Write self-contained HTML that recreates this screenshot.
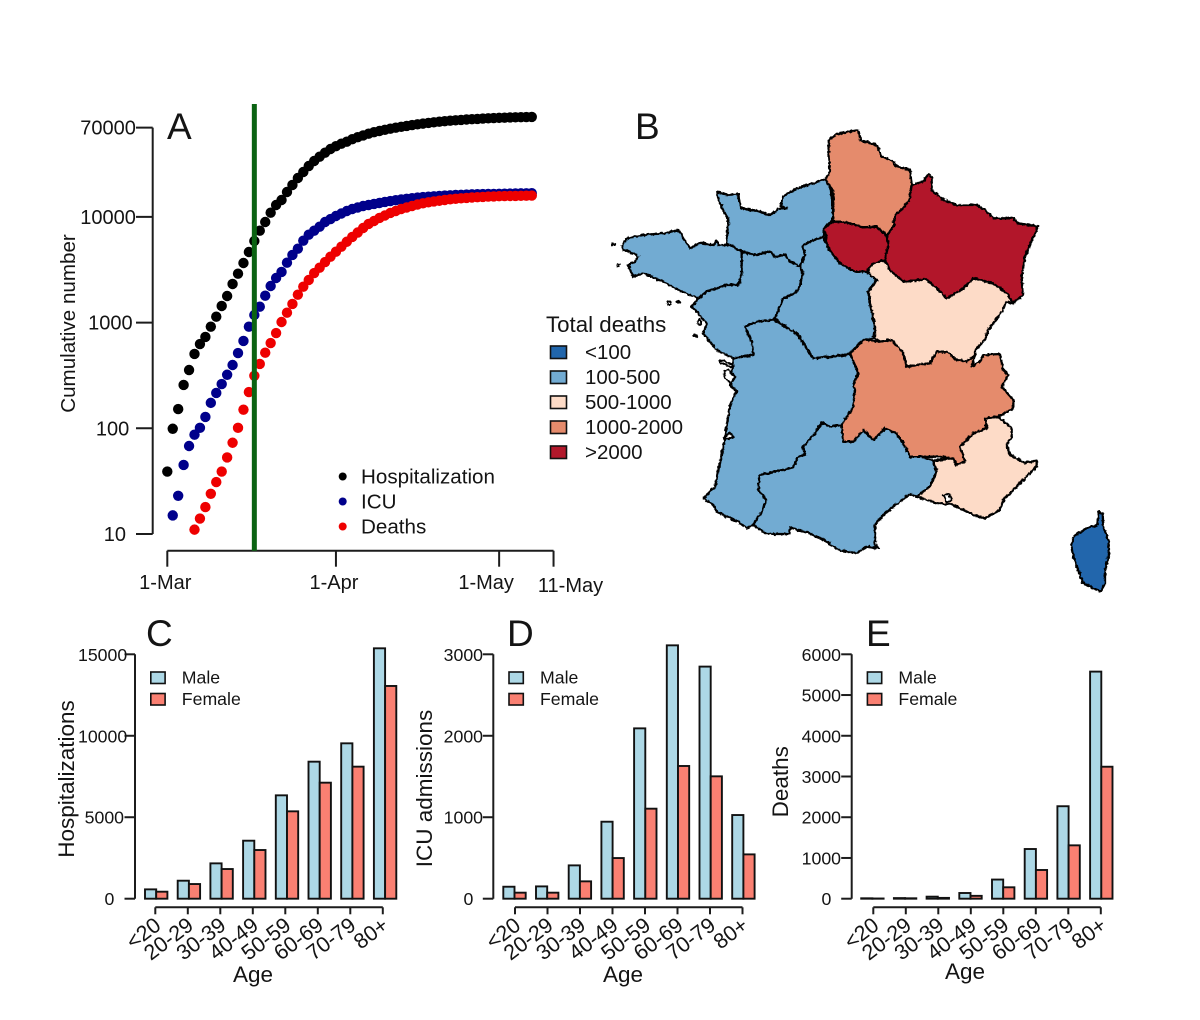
<!DOCTYPE html>
<html lang="en">
<head>
<meta charset="utf-8">
<title>COVID-19 in France: cumulative counts, regional deaths and age breakdown</title>
<style>
html,body{margin:0;padding:0;background:#fff;}
svg{display:block;}
text{font-family:"Liberation Sans",Arial,sans-serif;fill:#141414;}
.reg{stroke:#000;stroke-width:7;stroke-linejoin:round;}
.blue{fill:#72abd2;}
.dark{fill:#2166ac;}
.pale{fill:#fddbc7;}
.sal{fill:#e58b6c;}
.red{fill:#b2182b;}
.isl{fill:#fff;stroke:#000;stroke-width:6;stroke-linejoin:round;}
</style>
</head>
<body>
<svg id="fig" xmlns="http://www.w3.org/2000/svg" width="1200" height="1020" viewBox="0 0 1200 1020">
<defs>
<filter id="rough" x="-5%" y="-5%" width="110%" height="110%">
<feTurbulence type="fractalNoise" baseFrequency="0.3" numOctaves="2" seed="4" result="n"/>
<feDisplacementMap in="SourceGraphic" in2="n" scale="3.4" xChannelSelector="R" yChannelSelector="G"/>
</filter>
</defs>
<rect x="0" y="0" width="1200" height="1020" fill="#fff"/>

<g id="panelA"></g>

<g>
<text x="635" y="139" font-size="37">B</text>
<g filter="url(#rough)">
<g transform="translate(610 120) scale(0.33333)">
<polygon class="reg blue" points="322,215 350,225 385,222 388,245 395,265 440,272 480,285 510,265 530,265 512,258 518,230 560,205 610,190 640,180 645,178 660,200 668,240 668,300 642,325 640,350 600,365 578,378 585,405 570,440 540,425 525,405 495,410 480,395 435,405 395,395 370,385 350,372 352,340 355,300 340,270 325,240"/>
<polygon class="reg blue" points="35,380 50,355 100,345 160,340 205,330 220,355 240,385 270,368 310,375 320,362 325,375 360,375 395,395 395,465 385,495 350,495 290,515 265,535 240,525 205,510 160,485 100,460 70,470 55,435 75,425 85,410 60,395 40,390"/>
<polygon class="reg blue" points="395,395 435,405 480,395 495,410 525,405 540,425 570,440 578,455 570,500 555,520 520,535 500,590 490,600 440,605 405,620 425,665 430,705 370,715 320,690 280,640 290,610 265,580 245,560 265,535 290,515 350,495 385,495 395,465"/>
<polygon class="reg blue" points="578,378 600,365 640,350 655,385 690,430 735,455 770,455 790,460 800,480 775,515 780,550 795,620 790,655 760,660 720,700 710,705 610,715 580,670 560,640 525,620 495,595 520,535 555,520 570,500 578,455 570,440 585,405"/>
<polygon class="reg blue" points="370,715 430,705 425,665 405,620 440,605 490,600 525,620 560,640 580,670 610,715 710,705 720,700 745,760 730,795 735,810 730,860 695,915 660,920 635,908 615,940 580,980 585,1005 565,1010 550,1042 475,1060 448,1065 445,1110 470,1140 455,1175 430,1215 410,1225 385,1205 320,1175 310,1155 280,1135 315,1100 340,980 360,855 380,815 360,795"/>
<polygon class="reg blue" points="695,915 700,965 730,965 760,930 790,960 825,925 860,940 880,970 900,1010 930,1010 970,1022 980,1055 960,1100 920,1130 900,1122 850,1160 815,1190 795,1215 795,1275 805,1285 770,1280 740,1300 685,1290 650,1265 600,1240 540,1222 540,1242 470,1242 430,1215 455,1175 470,1140 445,1110 448,1065 475,1060 550,1042 565,1010 585,1005 580,980 615,940 635,908 660,920"/>
<polygon class="reg sal" points="657,60 680,42 745,30 752,62 800,75 815,108 850,125 860,140 900,150 905,195 898,240 880,265 855,285 850,320 830,348 800,320 760,322 700,305 668,305 670,240 668,210 645,178 660,155 655,100"/>
<polygon class="reg pale" points="790,430 825,420 840,450 880,485 950,478 980,505 1010,535 1060,505 1090,475 1150,490 1190,520 1210,550 1190,545 1175,575 1135,630 1125,660 1095,690 1095,705 1070,725 1040,720 1010,695 980,695 960,730 920,735 890,740 880,700 845,660 810,665 795,655 795,620 780,550 775,515 800,480 770,455"/>
<polygon class="reg pale" points="1125,895 1165,890 1205,925 1205,950 1190,975 1200,1005 1245,1028 1280,1022 1280,1040 1240,1080 1180,1140 1170,1170 1125,1195 1090,1185 1030,1155 985,1150 950,1140 920,1130 960,1100 980,1055 970,1022 1030,1015 1040,1035 1065,1025 1050,980 1090,940 1130,925"/>
<polygon class="reg sal" points="720,700 760,660 810,665 845,660 880,700 890,740 920,735 960,730 980,695 1010,695 1040,720 1070,725 1095,705 1085,740 1110,725 1120,705 1170,702 1180,750 1195,765 1175,800 1210,840 1210,865 1165,890 1125,895 1130,925 1090,940 1050,980 1065,1025 1040,1035 1030,1015 985,1010 930,1010 900,1010 880,970 860,940 825,925 790,960 760,930 730,965 700,965 695,915 730,860 735,810 730,795 745,760"/>
<polygon class="reg red" points="642,325 668,305 700,305 760,322 800,320 830,348 835,375 825,420 790,430 770,455 735,455 690,430 655,385"/>
<polygon class="reg red" points="830,348 850,320 855,285 880,265 898,240 905,195 940,185 955,162 965,170 965,210 1000,240 1040,255 1100,255 1125,270 1150,295 1210,295 1225,310 1285,320 1265,360 1245,410 1235,470 1238,525 1210,550 1190,520 1150,490 1090,475 1060,505 1010,535 980,505 950,478 880,485 840,450 825,420 835,375"/>
<polygon class="reg dark" points="1465,1175 1478,1180 1480,1220 1495,1260 1498,1300 1485,1350 1485,1390 1472,1415 1420,1390 1400,1340 1390,1310 1383,1275 1395,1245 1430,1225 1462,1215"/>
<polygon class="isl" points="330,720 370,735 365,742 330,728"/>
<polygon class="isl" points="342,755 355,750 375,770 362,790 345,775"/>
<polygon class="isl" points="345,955 358,937 372,952 360,956"/>
<polygon class="isl" points="1000,1125 1015,1122 1025,1140 1008,1148"/>
<ellipse class="isl" cx="10" cy="373" rx="4" ry="2"/>
<ellipse class="isl" cx="25" cy="435" rx="2" ry="2"/>
<ellipse class="isl" cx="178" cy="550" rx="6" ry="5"/>
<ellipse class="isl" cx="205" cy="546" rx="4" ry="2"/>
<ellipse class="isl" cx="268" cy="606" rx="5" ry="8"/>
<ellipse class="isl" cx="255" cy="648" rx="5" ry="3"/>
</g>
</g>
<g>
<text x="546" y="332" font-size="22.3">Total deaths</text>
<rect x="550.5" y="346" width="16" height="12.5" class="dark" stroke="#111" stroke-width="1.6"/>
<text x="585" y="359" font-size="20.5">&lt;100</text>
<rect x="550.5" y="371" width="16" height="12.5" class="blue" stroke="#111" stroke-width="1.6"/>
<text x="585" y="384" font-size="20.5">100-500</text>
<rect x="550.5" y="396" width="16" height="12.5" class="pale" stroke="#111" stroke-width="1.6"/>
<text x="585" y="409" font-size="20.5">500-1000</text>
<rect x="550.5" y="421" width="16" height="12.5" class="sal" stroke="#111" stroke-width="1.6"/>
<text x="585" y="434" font-size="20.5">1000-2000</text>
<rect x="550.5" y="446" width="16" height="12.5" class="red" stroke="#111" stroke-width="1.6"/>
<text x="585" y="459" font-size="20.5">&gt;2000</text>
</g>
</g>

<g id="panelC"></g>
<g id="panelD"></g>
<g id="panelE"></g>
</svg>

<script>
// Panel A data: cumulative counts per day, day 0 = 1 March
const hospStartDay = 0;
const hospitalizations = [39,99,152,257,356,505,627,731,915,1137,1436,1785,2319,2901,3664,4656,5916,7400,8950,10960,12960,14450,17200,20040,23340,26600,30300,33800,37100,40500,43900,46650,49270,51450,54350,56750,59000,61250,63300,64960,66700,68300,69800,71200,72600,73900,75200,76300,77500,78500,79550,80400,81300,82000,82700,83450,84000,84550,85100,85700,86050,86450,86800,87200,87550,87750,88100,88300];
const icuStartDay = 1;
const icuAdmissions = [15,23,45,68,87,101,128,174,216,262,321,397,515,670,914,1180,1413,1797,2220,2642,3013,3687,4363,5000,5957,6788,7400,8077,8950,9550,10200,10770,11370,11880,12270,12680,12960,13250,13540,13840,14130,14390,14640,14830,15030,15230,15390,15520,15670,15800,15900,16010,16110,16180,16250,16330,16400,16430,16470,16500,16540,16580,16610,16650,16690,16720,16760];
const deathsStartDay = 5;
const cumulativeDeaths = [11,14,18,24,31,39,53,73,101,150,220,314,406,519,641,797,1013,1241,1500,1837,2188,2530,2945,3304,3742,4203,4688,5224,5821,6457,7117,7852,8570,9145,9772,10310,10890,11370,11880,12270,12680,13100,13450,13750,13990,14220,14450,14670,14830,14990,15130,15260,15350,15460,15560,15630,15700,15740,15770,15800,15840,15870,15900];
const lockdownDay = 16;
const logTicks = [10,100,1000,10000,70000];
const logTickLabels = ["10","100","1000","10000","70000"];
const dateTickDays = [0,31,61,71];
const dateTickLabels = ["1-Mar","1-Apr","1-May","11-May"];

// Panels C, D, E data
const ageGroups = ["<20","20-29","30-39","40-49","50-59","60-69","70-79","80+"];
const hospMale = [573,1105,2169,3560,6344,8410,9536,15368];
const hospFemale = [430,900,1821,2988,5362,7121,8104,13056];
const hospTicks = [0,5000,10000,15000];
const icuMale = [147,151,409,945,2091,3110,2849,1027];
const icuFemale = [74,74,213,499,1105,1629,1502,544];
const icuTicks = [0,1000,2000,3000];
const deathMale = [10,15,50,140,470,1220,2270,5575];
const deathFemale = [5,10,20,70,280,705,1310,3240];
const deathTicks = [0,1000,2000,3000,4000,5000,6000];

const NS = "http://www.w3.org/2000/svg";
const AXIS = "#1c1c1c";
function mk(parent, tag, geometry, text) {
  const el = document.createElementNS(NS, tag);
  for (const k in geometry) el.setAttribute(k, geometry[k]);
  if (text !== undefined) el.textContent = text;
  parent.appendChild(el);
  return el;
}
function mkLine(parent, x1, y1, x2, y2, name) {
  const el = mk(parent, "line", {x1, y1, x2, y2, stroke: AXIS, "stroke-width": 2});
  
  
  return el;
}
function mkText(parent, x, y, size, str, name, anchor, rot) {
  const g = {x, y, "font-size": size};
  if (anchor) g["text-anchor"] = anchor;
  if (rot !== undefined) g.transform = "rotate(" + rot + " " + x + " " + y + ")";
  const el = mk(parent, "text", g, str);
  
  
  return el;
}

// ---------- Panel A ----------
(function () {
  const root = document.getElementById("panelA");
  const xA = d => 167.3 + d * 5.44;
  const yA = v => 534 - (Math.log10(v) - 1) * 105.7;
  const axisX = 152.7, axisY = 550.7;

  mkText(root, 167, 139, 37, "A", "panel-a-label");
  mkLine(root, axisX, yA(70000), axisX, yA(10), "y-axis-line");
  logTicks.forEach((t, i) => {
    mkLine(root, 136, yA(t), axisX, yA(t), "y-tick");
    const endX = 126 + 3.3 * (logTickLabels[i].length - 2);
    mkText(root, endX, yA(t) + 7, 20, logTickLabels[i], "y-tick-label", "end");
  });
  mkLine(root, xA(dateTickDays[0]), axisY, xA(dateTickDays[3]), axisY, "x-axis-line");
  const labelNudge = [-2, -2, -13, 17];
  const labelDrop = [0, 0, 0, 3];
  dateTickDays.forEach((d, i) => {
    mkLine(root, xA(d), axisY, xA(d), axisY + 16, "x-tick");
    mkText(root, xA(d) + labelNudge[i], 589 + labelDrop[i], 20, dateTickLabels[i], "x-tick-label", "middle");
  });
  mkText(root, 75, 323.5, 20.6, "Cumulative number", "y-axis-title", "middle", -90);

  function series(values, start, color, name) {
    const g = mk(root, "g", {});
    
    
    values.forEach((v, i) => {
      const c = mk(g, "circle", {cx: xA(start + i), cy: yA(v), r: 5.2, fill: color});
      
      
    });
  }
  series(hospitalizations, hospStartDay, "#000000", "series-hospitalization");
  series(icuAdmissions, icuStartDay, "#00008b", "series-icu");
  series(cumulativeDeaths, deathsStartDay, "#ee0000", "series-deaths");

  const vline = mk(root, "line", {x1: xA(lockdownDay), y1: 104, x2: xA(lockdownDay), y2: axisY, stroke: "#0b6312", "stroke-width": 5});
  
  

  const names = ["Hospitalization", "ICU", "Deaths"];
  const cols = ["#000000", "#00008b", "#ee0000"];
  names.forEach((n, i) => {
    const ly = 476.5 + i * 25;
    const d = mk(root, "circle", {cx: 342.7, cy: ly, r: 4, fill: cols[i]});
    
    
    mkText(root, 361, ly + 7, 20.6, n, "legend-label");
  });
})();

// ---------- Panels C, D, E ----------
function drawBars(cfg) {
  const root = document.getElementById(cfg.id);
  const y0 = 898.7, yTop = 654.3;
  const yS = v => y0 - v / cfg.max * (y0 - yTop);
  const groupStep = 32.7, barW = 11.2;

  mkText(root, cfg.letterX, cfg.letterY, 37, cfg.letter, "panel-label");
  mkLine(root, cfg.axisX, yS(cfg.ticks[0]), cfg.axisX, yS(cfg.max), "y-axis-line");
  cfg.ticks.forEach(t => {
    mkLine(root, cfg.axisX - 10.5, yS(t), cfg.axisX, yS(t), "y-tick");
    mkText(root, cfg.labelEnd + 3.2 * (String(t).length - 4), yS(t) + 6.5, 17.7, String(t), "y-tick-label", "end");
  });

  cfg.male.forEach((v, i) => {
    const x = cfg.barX + i * groupStep;
    const m = mk(root, "rect", {x, y: yS(v), width: barW, height: y0 - yS(v), fill: "#add8e6", stroke: "#111", "stroke-width": 1.9});
    
    
    const fv = cfg.female[i];
    const f = mk(root, "rect", {x: x + barW, y: yS(fv), width: barW, height: y0 - yS(fv), fill: "#fa8072", stroke: "#111", "stroke-width": 1.9});
    
    
  });

  const axY = 907.3, tickStep = 32.5;
  const xT = i => cfg.tickX + i * tickStep;
  mkLine(root, xT(0), axY, xT(ageGroups.length - 1), axY, "x-axis-line");
  ageGroups.forEach((a, i) => {
    mkLine(root, xT(i), axY, xT(i), axY + 7, "x-tick");
    mkText(root, xT(i) + 7, 928, 21.5, a, "x-tick-label", "end", -37);
  });
  mkText(root, cfg.ageX, cfg.ageY, 22.5, "Age", "x-axis-title", "middle");
  mkText(root, cfg.titleX, cfg.titleY, 22.5, cfg.title, "y-axis-title", "middle", -90);

  const lx = cfg.legendX;
  const s1 = mk(root, "rect", {x: lx, y: 672, width: 14.3, height: 11.5, fill: "#add8e6", stroke: "#111", "stroke-width": 1.6});
  
  
  const s2 = mk(root, "rect", {x: lx, y: 693.5, width: 14.3, height: 11.5, fill: "#fa8072", stroke: "#111", "stroke-width": 1.6});
  
  
  mkText(root, lx + 31, 683.5, 17.7, "Male", "legend-label-male");
  mkText(root, lx + 31, 705, 17.7, "Female", "legend-label-female");
}
drawBars({id:"panelC", letter:"C", letterX:146, letterY:646, male:hospMale, female:hospFemale, ticks:hospTicks, max:15000, axisX:135, labelEnd:124, barX:145, tickX:155.3, ageX:253, ageY:982, title:"Hospitalizations", titleX:74, titleY:779, legendX:150.8});
drawBars({id:"panelD", letter:"D", letterX:507, letterY:646, male:icuMale, female:icuFemale, ticks:icuTicks, max:3000, axisX:493.3, labelEnd:483, barX:503.3, tickX:515, ageX:623, ageY:982, title:"ICU admissions", titleX:432, titleY:788.5, legendX:509});
drawBars({id:"panelE", letter:"E", letterX:866, letterY:646, male:deathMale, female:deathFemale, ticks:deathTicks, max:6000, axisX:851.7, labelEnd:841, barX:861.2, tickX:873.3, ageX:965, ageY:979, title:"Deaths", titleX:788, titleY:781.7, legendX:867.4});
</script>
</body>
</html>
